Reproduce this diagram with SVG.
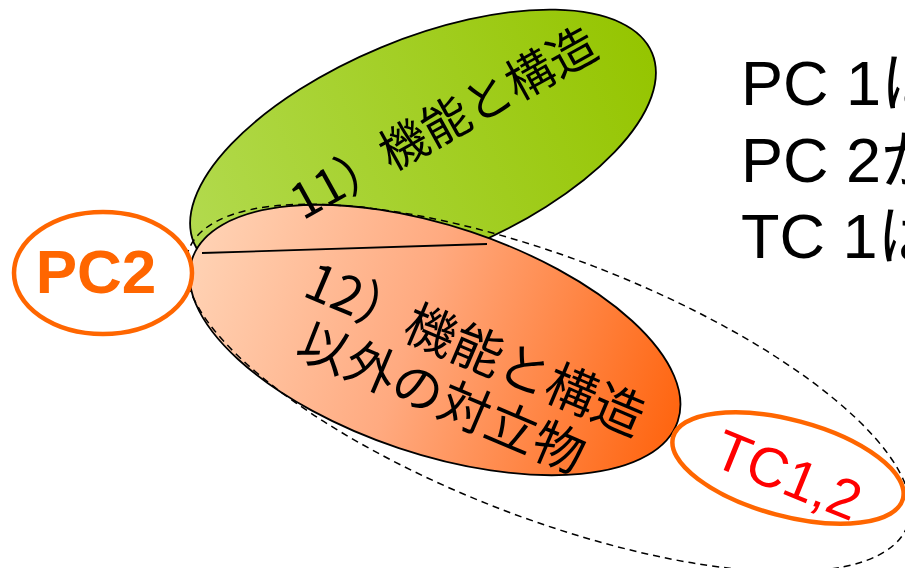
<svg xmlns="http://www.w3.org/2000/svg" width="905" height="568" viewBox="0 0 905 568">
<defs>
<linearGradient id="gGreen" x1="0" y1="0" x2="1" y2="0">
<stop offset="0" stop-color="#B2DA4E"/>
<stop offset="1" stop-color="#95C500"/>
</linearGradient>
<linearGradient id="gPink" x1="0" y1="0" x2="1" y2="0">
<stop offset="0" stop-color="#FFD2B4"/>
<stop offset="0.45" stop-color="#FFAA80"/>
<stop offset="1" stop-color="#FF6510"/>
</linearGradient>
<style>
.jp{font-family:"Noto Sans CJK JP","Liberation Sans",sans-serif;fill:#000}
.lat{font-family:"Liberation Sans","Noto Sans CJK JP",sans-serif}
.oval{stroke:#000;stroke-width:1.8}
.tag{fill:#fff;stroke:#FF6600;stroke-width:4.5}
</style>
</defs>
<rect width="905" height="568" fill="#fff"/>
<g id="structure">
<ellipse class="oval" cx="423" cy="148" rx="248" ry="109" transform="rotate(-22.5 423 148)" fill="url(#gGreen)"/>
</g>
<g id="non-structure">
<ellipse class="oval" cx="435" cy="340" rx="256" ry="114" transform="rotate(18.5 435 340)" fill="url(#gPink)"/>
<line x1="202" y1="253" x2="487" y2="244" stroke="#000" stroke-width="1.8"/>
<g transform="translate(468 366) rotate(23)">
<text class="jp" x="0" y="0" font-size="51" text-anchor="middle">12）機能と構造</text>
<text class="jp" x="-12" y="58" font-size="51" text-anchor="middle">以外の対立物</text>
</g>
</g>
<g id="structure-label">
<text class="jp" font-size="48" text-anchor="middle" transform="translate(452 138) rotate(-29)">11）機能と構造</text>
</g>
<g id="connectors">
<ellipse cx="548" cy="388" rx="385" ry="130" transform="rotate(21 548 388)" fill="none" stroke="#000" stroke-width="1.5" stroke-dasharray="7 5"/>
</g>
<g id="pc2">
<ellipse class="tag" cx="103" cy="273" rx="89" ry="61"/>
<text class="lat" x="96" y="293" font-size="62" font-weight="bold" fill="#FF6600" text-anchor="middle">PC2</text>
</g>
<g id="tc12">
<ellipse class="tag" cx="788" cy="468" rx="119" ry="48" transform="rotate(15 788 468)"/>
<text class="lat" font-size="56" fill="#FF0000" text-anchor="middle" transform="translate(781 493) rotate(22)">TC1,2</text>
</g>
<g id="notes" class="lat" font-size="63" fill="#000">
<text x="741" y="105">PC 1は</text>
<text x="741" y="182">PC 2が</text>
<text x="741" y="258">TC 1は</text>
</g>
</svg>
